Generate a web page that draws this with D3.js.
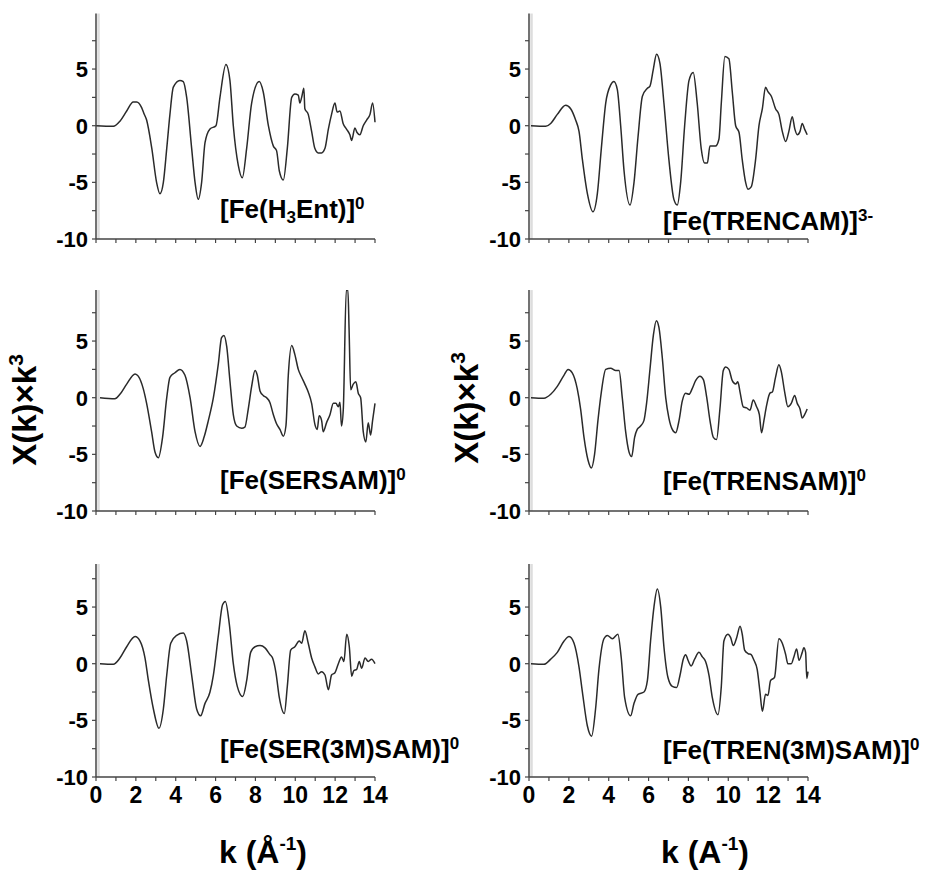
<!DOCTYPE html>
<html><head><meta charset="utf-8">
<script src="https://cdn.jsdelivr.net/npm/d3@7"></script>
<style>
body{margin:0;background:#fff}
text{font-family:Arial,"Liberation Sans",sans-serif;font-weight:bold;fill:#000}
</style>
</head><body>
<svg id="chart" width="928" height="871"></svg>
<script>
// ---------------- DATA ----------------
const xTicks = [0, 2, 4, 6, 8, 10, 12, 14];
const xMinorTicks = d3.range(0, 15, 1);
const yTickLabels = [5, 0, -5, -10];
const yMinorTicks = [-10, -7.5, -5, -2.5, 0, 2.5, 5, 7.5];

const labelH3Ent   = [["[Fe(H",""],["3","sub"],["Ent)]",""],["0","sup"]];
const labelTRENCAM = [["[Fe(TRENCAM)]",""],["3-","sup"]];
const labelSERSAM  = [["[Fe(SERSAM)]",""],["0","sup"]];
const labelTRENSAM = [["[Fe(TRENSAM)]",""],["0","sup"]];
const labelSER3M   = [["[Fe(SER(3M)SAM)]",""],["0","sup"]];
const labelTREN3M  = [["[Fe(TREN(3M)SAM)]",""],["0","sup"]];

// [k, chi(k)*k^3]
const seriesH3Ent = [[0,0],[0.87,-0.05],[1.2,0.4],[1.54,1.3],[1.87,2.1],[2.04,2.1],[2.29,1.6],[2.4,1.1],[2.54,0.5],[2.8,-2],[3.04,-5],[3.21,-6],[3.38,-5],[3.55,-2],[3.71,1],[3.88,3.4],[4.21,4.0],[4.38,3.9],[4.55,2.5],[4.8,-2],[4.97,-5],[5.13,-6.5],[5.3,-5],[5.47,-1.5],[5.72,-0.3],[6.02,0],[6.22,2.5],[6.52,5.4],[6.72,4],[6.89,0],[7.14,-3.5],[7.34,-4.6],[7.56,-2],[7.81,2],[8.19,3.9],[8.39,3.0],[8.65,0],[8.9,-1.8],[9.06,-2.2],[9.2,-4],[9.4,-4.8],[9.6,-2],[9.82,2.5],[9.98,2.8],[10.15,2.7],[10.23,2.0],[10.32,2.5],[10.43,3.3],[10.48,1.5],[10.65,1.0],[10.82,-0.5],[10.98,-2.0],[11.15,-2.4],[11.32,-2.4],[11.49,-2],[11.66,-0.3],[11.82,1.0],[11.99,2.0],[12.1,1.2],[12.24,1.3],[12.4,0.2],[12.57,-0.3],[12.74,-0.8],[12.83,-1.3],[12.99,-0.2],[13.1,-0.6],[13.24,-0.8],[13.41,0],[13.58,0.5],[13.75,1.0],[13.88,2.0],[14.0,0.3]];

const seriesTRENCAM = [[0.1,0],[0.84,-0.05],[1.09,0.2],[1.42,1.0],[1.84,1.8],[2.09,1.5],[2.34,0.5],[2.51,-0.5],[2.68,-3],[2.93,-6],[3.21,-7.6],[3.43,-6],[3.63,-2],[3.85,2],[4.1,3.6],[4.26,3.9],[4.43,3.2],[4.6,0],[4.77,-4],[5.07,-7],[5.27,-5],[5.47,-1],[5.69,2.6],[5.94,3.3],[6.07,3.5],[6.24,5.0],[6.4,6.3],[6.57,5.5],[6.77,2],[7.02,-3],[7.27,-6.5],[7.44,-7],[7.61,-5],[7.81,0],[8.03,4],[8.24,4.7],[8.44,2],[8.64,-2],[8.81,-3.3],[8.95,-3.3],[9.08,-1.8],[9.36,-1.8],[9.53,-1.2],[9.65,2],[9.83,6.1],[10.03,5.9],[10.2,3],[10.37,0],[10.54,-0.6],[10.7,-3],[10.87,-5],[10.99,-5.6],[11.15,-5.4],[11.37,-3],[11.54,0],[11.71,1.5],[11.87,3.4],[11.99,3.0],[12.16,2.6],[12.37,1.5],[12.54,1.0],[12.71,-0.5],[12.88,-1.4],[13.04,-0.5],[13.21,0.8],[13.34,-0.3],[13.46,-0.8],[13.6,-0.5],[13.71,0.2],[13.83,-0.3],[13.96,-0.8]];

const seriesSERSAM = [[0.2,0],[0.95,-0.1],[1.2,0.3],[1.54,1.2],[1.96,2.1],[2.12,1.9],[2.37,0.8],[2.54,-0.5],[2.79,-3],[2.96,-4.8],[3.13,-5.3],[3.34,-3.5],[3.55,0],[3.71,1.8],[3.96,2.2],[4.21,2.5],[4.46,2.0],[4.72,0],[4.97,-3],[5.22,-4.3],[5.42,-3.5],[5.64,-2],[5.89,0],[6.14,3.0],[6.3,5.3],[6.42,5.5],[6.56,4.5],[6.72,1.5],[6.89,-1.5],[7.06,-2.5],[7.31,-2.7],[7.47,-2.6],[7.64,-1.0],[7.81,1.0],[7.98,2.4],[8.09,2.0],[8.23,0.6],[8.39,0.2],[8.56,0.0],[8.72,-0.4],[8.9,-1.5],[9.06,-2.3],[9.23,-2.8],[9.4,-3.4],[9.53,-2.5],[9.65,2.0],[9.82,4.6],[9.98,3.8],[10.15,2.5],[10.32,1.8],[10.48,1.2],[10.65,0.5],[10.82,-0.5],[10.99,-2.4],[11.1,-2.8],[11.2,-1.6],[11.32,-2.0],[11.4,-3.0],[11.57,-2.2],[11.74,-1.5],[11.91,-0.5],[12.04,-0.5],[12.16,-0.8],[12.24,-0.4],[12.32,-2.5],[12.41,-1.0],[12.56,9.5],[12.64,9.5],[12.7,6.0],[12.78,0.7],[12.91,1.2],[13.04,1.4],[13.16,0.4],[13.28,0.0],[13.41,-3.0],[13.54,-3.9],[13.66,-2.2],[13.78,-3.3],[13.88,-2.0],[14.0,-0.5]];

const seriesTRENSAM = [[0.1,0],[0.75,-0.05],[1.09,0.3],[1.42,1.0],[1.76,2.0],[1.96,2.5],[2.17,2.2],[2.42,0.8],[2.59,-1],[2.76,-3.5],[2.96,-5.5],[3.13,-6.2],[3.29,-5],[3.46,-2],[3.63,0.5],[3.85,2.5],[4.1,2.6],[4.35,2.4],[4.52,2.4],[4.68,0],[4.85,-3],[5.02,-4.8],[5.15,-5.2],[5.3,-3.5],[5.43,-2.8],[5.6,-2.5],[5.77,-2.0],[5.9,-0.5],[6.07,2.5],[6.24,5.5],[6.39,6.8],[6.52,6.2],[6.69,3.5],[6.86,0],[7.02,-1.8],[7.19,-2.8],[7.36,-3.1],[7.53,-2.0],[7.69,-0.3],[7.86,0.4],[8.03,0.3],[8.19,0.8],[8.36,1.5],[8.58,1.9],[8.75,1.6],[8.92,0],[9.08,-2.0],[9.25,-3.5],[9.41,-3.7],[9.58,-1.0],[9.75,2.4],[9.87,2.7],[10.03,2.5],[10.2,1.5],[10.37,1.2],[10.48,1.4],[10.59,0.5],[10.75,-0.8],[10.92,-0.9],[11.09,-1.1],[11.25,-0.2],[11.42,-0.8],[11.56,-1.5],[11.67,-3.1],[11.79,-2.0],[11.92,-0.7],[12.09,0.4],[12.21,0.5],[12.37,1.8],[12.54,2.9],[12.66,2.3],[12.83,0.5],[12.99,-0.8],[13.16,-0.5],[13.33,0.2],[13.46,-0.5],[13.6,-1.0],[13.71,-1.8],[13.83,-1.5],[13.96,-1.0]];

const seriesSER3M = [[0.2,0],[0.87,-0.05],[1.2,0.5],[1.54,1.5],[1.96,2.4],[2.21,2.0],[2.46,0.5],[2.63,-1.5],[2.88,-4],[3.16,-5.7],[3.38,-4],[3.55,-1],[3.75,1.8],[4.05,2.5],[4.38,2.7],[4.55,2.0],[4.8,-1],[5.05,-4],[5.25,-4.6],[5.47,-3.5],[5.72,-2.5],[5.89,-1],[6.14,2.5],[6.35,5.2],[6.49,5.5],[6.69,3.5],[6.89,0],[7.09,-2],[7.36,-2.9],[7.56,-1.5],[7.76,1.0],[7.98,1.5],[8.23,1.6],[8.48,1.4],[8.73,0.8],[8.86,0.5],[9.03,-0.8],[9.2,-3],[9.45,-4.4],[9.6,-2],[9.77,1.2],[9.98,1.5],[10.2,2.0],[10.32,1.8],[10.48,2.9],[10.65,1.8],[10.82,0.5],[10.99,-0.3],[11.15,-0.9],[11.32,-0.7],[11.49,-1.0],[11.66,-2.3],[11.82,-1.0],[11.99,-0.8],[12.16,0],[12.32,0.6],[12.44,0.2],[12.58,2.6],[12.71,1.5],[12.83,-1.1],[12.94,-0.6],[13.08,-0.5],[13.21,0.2],[13.33,-0.4],[13.5,0.5],[13.66,0.2],[13.83,0.4],[14.0,0.0]];

const seriesTREN3M = [[0.1,0],[0.75,-0.05],[1.09,0.4],[1.42,1.0],[1.76,2.0],[2.01,2.4],[2.26,1.8],[2.51,-0.3],[2.68,-2.5],[2.93,-5.5],[3.14,-6.4],[3.34,-4],[3.51,-0.5],[3.76,2.2],[3.93,2.5],[4.18,2.2],[4.46,2.6],[4.63,0.5],[4.8,-3],[5.1,-4.6],[5.27,-3.5],[5.47,-2.7],[5.77,-2.5],[5.94,-1.5],[6.1,2.0],[6.27,5.0],[6.44,6.6],[6.61,5.0],[6.77,1.5],[6.97,-1.2],[7.19,-2.0],[7.41,-2.1],[7.58,-1.0],[7.74,0.4],[7.86,0.8],[7.98,0.3],[8.14,-0.2],[8.31,0.4],[8.53,1.0],[8.7,0.6],[8.86,0.2],[9.03,-1.0],[9.2,-3],[9.48,-4.5],[9.65,-2],[9.78,2.0],[9.98,2.6],[10.12,2.3],[10.25,1.6],[10.42,2.3],[10.59,3.3],[10.7,2.6],[10.82,1.2],[10.99,0.9],[11.15,0.8],[11.29,0.3],[11.45,-0.5],[11.59,-2.5],[11.71,-4.2],[11.87,-2.7],[11.99,-2.8],[12.12,-1.5],[12.32,-1.2],[12.54,2.2],[12.71,1.8],[12.88,0.8],[12.99,0.0],[13.16,0.0],[13.29,0.6],[13.43,1.3],[13.55,0.3],[13.71,1.0],[13.79,1.4],[13.88,1.0],[13.94,-1.3],[14.0,-0.7]];

// ---------------- LAYOUT ----------------
const svg = d3.select("#chart");
const colX = [96, 529];
const plotW = 279;
const rowBottom = [239, 511, 777];
const pxPerUnit = 11.33;
const axisTop = [9.9, 9.5, 8.8];

const panels = [
  {data: seriesH3Ent,   label: labelH3Ent,   col:0, row:0, lx:220, ly:218},
  {data: seriesTRENCAM, label: labelTRENCAM, col:1, row:0, lx:663, ly:230},
  {data: seriesSERSAM,  label: labelSERSAM,  col:0, row:1, lx:220, ly:489},
  {data: seriesTRENSAM, label: labelTRENSAM, col:1, row:1, lx:663, ly:490},
  {data: seriesSER3M,   label: labelSER3M,   col:0, row:2, lx:220, ly:758},
  {data: seriesTREN3M,  label: labelTREN3M,  col:1, row:2, lx:663, ly:759}
];

function addRich(sel, parts, size, supSize, supDy, subDy) {
  let prev = "";
  parts.forEach(([t, type]) => {
    const ts = sel.append("tspan").text(t);
    if (type === "sup") { ts.attr("font-size", supSize).attr("dy", (prev === "sub" ? -subDy : 0) - supDy); }
    else if (type === "sub") { ts.attr("font-size", supSize).attr("dy", (prev === "sup" ? supDy : 0) + subDy); }
    else {
      ts.attr("font-size", size);
      if (prev === "sup") ts.attr("dy", supDy);
      if (prev === "sub") ts.attr("dy", -subDy);
    }
    prev = type;
  });
}

const defs = svg.append("defs");

panels.forEach((p, i) => {
  const x0 = colX[p.col];
  const yb = rowBottom[p.row];
  const x = d3.scaleLinear().domain([0, 14]).range([x0, x0 + plotW]);
  const y = d3.scaleLinear().domain([-10, 10]).range([yb, yb - 20 * pxPerUnit]);
  const g = svg.append("g");
  const topV = axisTop[p.row];

  const clipId = "clip" + i;
  defs.append("clipPath").attr("id", clipId).append("rect")
    .attr("x", x0 - 2).attr("y", y(topV)).attr("width", plotW + 10).attr("height", y(-10) - y(topV));

  g.append("line").attr("x1", x0 + 2.5).attr("x2", x0 + 2.5).attr("y1", y(topV)).attr("y2", y(-10))
    .attr("stroke", "#ddd").attr("stroke-width", 2.5);

  const line = d3.line().x(d => x(d[0])).y(d => y(d[1])).curve(d3.curveMonotoneX);
  g.append("path").datum(p.data).attr("d", line)
    .attr("fill", "none").attr("stroke", "#2a2a2a").attr("stroke-width", 1.5)
    .attr("stroke-linejoin", "round").attr("clip-path", `url(#${clipId})`);

  g.append("line").attr("x1", x0).attr("x2", x0).attr("y1", y(topV)).attr("y2", y(-10))
    .attr("stroke", "#444").attr("stroke-width", 1.5);
  yMinorTicks.forEach(v => {
    g.append("line").attr("x1", x0 - 4).attr("x2", x0).attr("y1", y(v)).attr("y2", y(v))
      .attr("stroke", "#444").attr("stroke-width", 1.2);
  });
  yTickLabels.forEach(v => {
    g.append("text").attr("x", x0 - 8).attr("y", y(v)).attr("dy", "0.36em")
      .attr("text-anchor", "end").attr("font-size", 22).text(v);
  });

  g.append("line").attr("x1", x0).attr("x2", x0 + plotW).attr("y1", yb).attr("y2", yb)
    .attr("stroke", "#444").attr("stroke-width", 1.5);
  xMinorTicks.forEach(v => {
    g.append("line").attr("x1", x(v)).attr("x2", x(v)).attr("y1", yb).attr("y2", yb + 4)
      .attr("stroke", "#444").attr("stroke-width", 1.2);
  });
  if (p.row === 2) {
    xTicks.forEach(v => {
      g.append("text").attr("x", x(v)).attr("y", yb + 26).attr("text-anchor", "middle")
        .attr("font-size", 23).text(v);
    });
  }

  const t = g.append("text").attr("x", p.lx).attr("y", p.ly);
  addRich(t, p.label, 26, 17, 9, 5);
});

[[25, 410], [467, 408]].forEach(([cx, cy]) => {
  const t = svg.append("text").attr("transform", `translate(${cx + 11},${cy}) rotate(-90)`)
    .attr("text-anchor", "middle");
  addRich(t, [["X(k)×k", ""], ["3", "sup"]], 33, 21, 13, 0);
});

[[263, "k (Å"], [705, "k (A"]].forEach(([cx, s]) => {
  const t = svg.append("text").attr("x", cx).attr("y", 863).attr("text-anchor", "middle");
  addRich(t, [[s, ""], ["-1", "sup"], [")", ""]], 32, 19, 13, 0);
});
</script>
</body></html>
